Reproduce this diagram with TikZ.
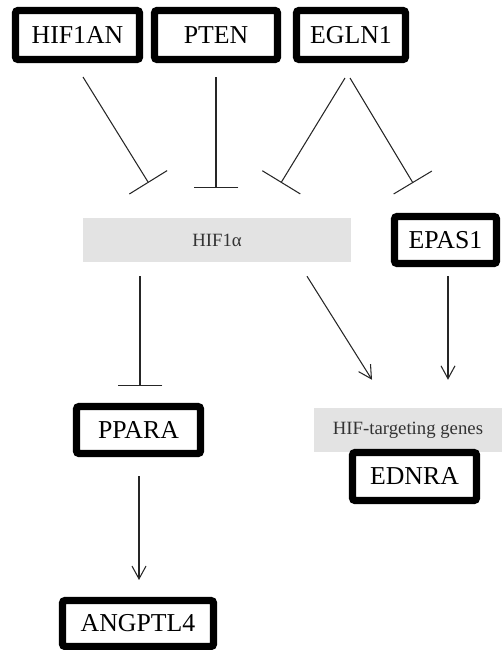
\documentclass[tikz,border=0pt]{standalone}
\usepackage{fontspec}
\setmainfont{Liberation Serif}
\usepackage{tikz}
\usetikzlibrary{positioning,calc,arrows.meta}

\tikzset{
    gene/.style={draw, line width=6pt, rounded corners=2pt, fill=white,
        inner sep=0pt, font=\fontsize{22}{24}\selectfont},
    group/.style={fill=gray!22, inner sep=0pt, text=black!80,
        font=\fontsize{16}{18}\selectfont},
    inhibit/.style={line width=0.9pt, draw=black!85, -{Bar[width=38pt,line width=0.9pt]}},
    activate/.style={line width=0.9pt, draw=black!85, -{Straight Barb[length=11pt,width=12pt,line width=0.9pt]}}
}

\begin{document}
\begin{tikzpicture}[x=0.03cm, y=-0.03cm]
    \useasboundingbox (0,0) rectangle (502,650);

    % top row
    \node[gene, minimum width=3.72cm, minimum height=1.47cm] (hif1an) at (77.5,35) {HIF1AN};
    \node[gene, minimum width=3.69cm, minimum height=1.47cm] (pten) at (216,35) {PTEN};
    \node[gene, minimum width=3.27cm, minimum height=1.47cm] (egln1) at (351,35) {EGLN1};

    % middle row
    \node[group, minimum width=8.04cm, minimum height=1.32cm] (hif1a) at (217,240) {HIF1α};
    \node[gene, minimum width=3.06cm, minimum height=1.41cm] (epas1) at (445.5,240) {EPAS1};

    % lower row
    \node[gene, minimum width=3.72cm, minimum height=1.41cm] (ppara) at (138.5,430) {PPARA};
    \node[group, minimum width=5.64cm, minimum height=1.32cm] (hifgenes) at (408,430) {HIF-targeting genes};
    \node[gene, minimum width=3.72cm, minimum height=1.44cm] (ednra) at (414.5,476.5) {EDNRA};
    \node[gene, minimum width=4.53cm, minimum height=1.38cm] (angptl4) at (138,623.5) {ANGPTL4};

    % inhibitions
    \draw[inhibit] ([shift={(5.5,14)}]hif1an.south) -- ([shift={(-68.5,-35)}]hif1a.north);
    \draw[inhibit] ([shift={(0,14)}]pten.south) -- ([shift={(-1,-30)}]hif1a.north);
    \draw[inhibit] ([shift={(-6,15)}]egln1.south) -- ([shift={(64,-35)}]hif1a.north);
    \draw[inhibit] ([shift={(-1,15)}]egln1.south) -- ([shift={(-32.5,-30)}]epas1.north);
    \draw[inhibit] ([shift={(-77,14)}]hif1a.south) -- ([shift={(1.5,-17)}]ppara.north);

    % activations
    \draw[activate] ([shift={(90,14)}]hif1a.south) -- ([shift={(-36,-28)}]hifgenes.north);
    \draw[activate] ([shift={(2.5,9)}]epas1.south) -- ([shift={(40,-28)}]hifgenes.north);
    \draw[activate] ([shift={(0.5,19)}]ppara.south) -- ([shift={(1,-17)}]angptl4.north);
\end{tikzpicture}
\end{document}
